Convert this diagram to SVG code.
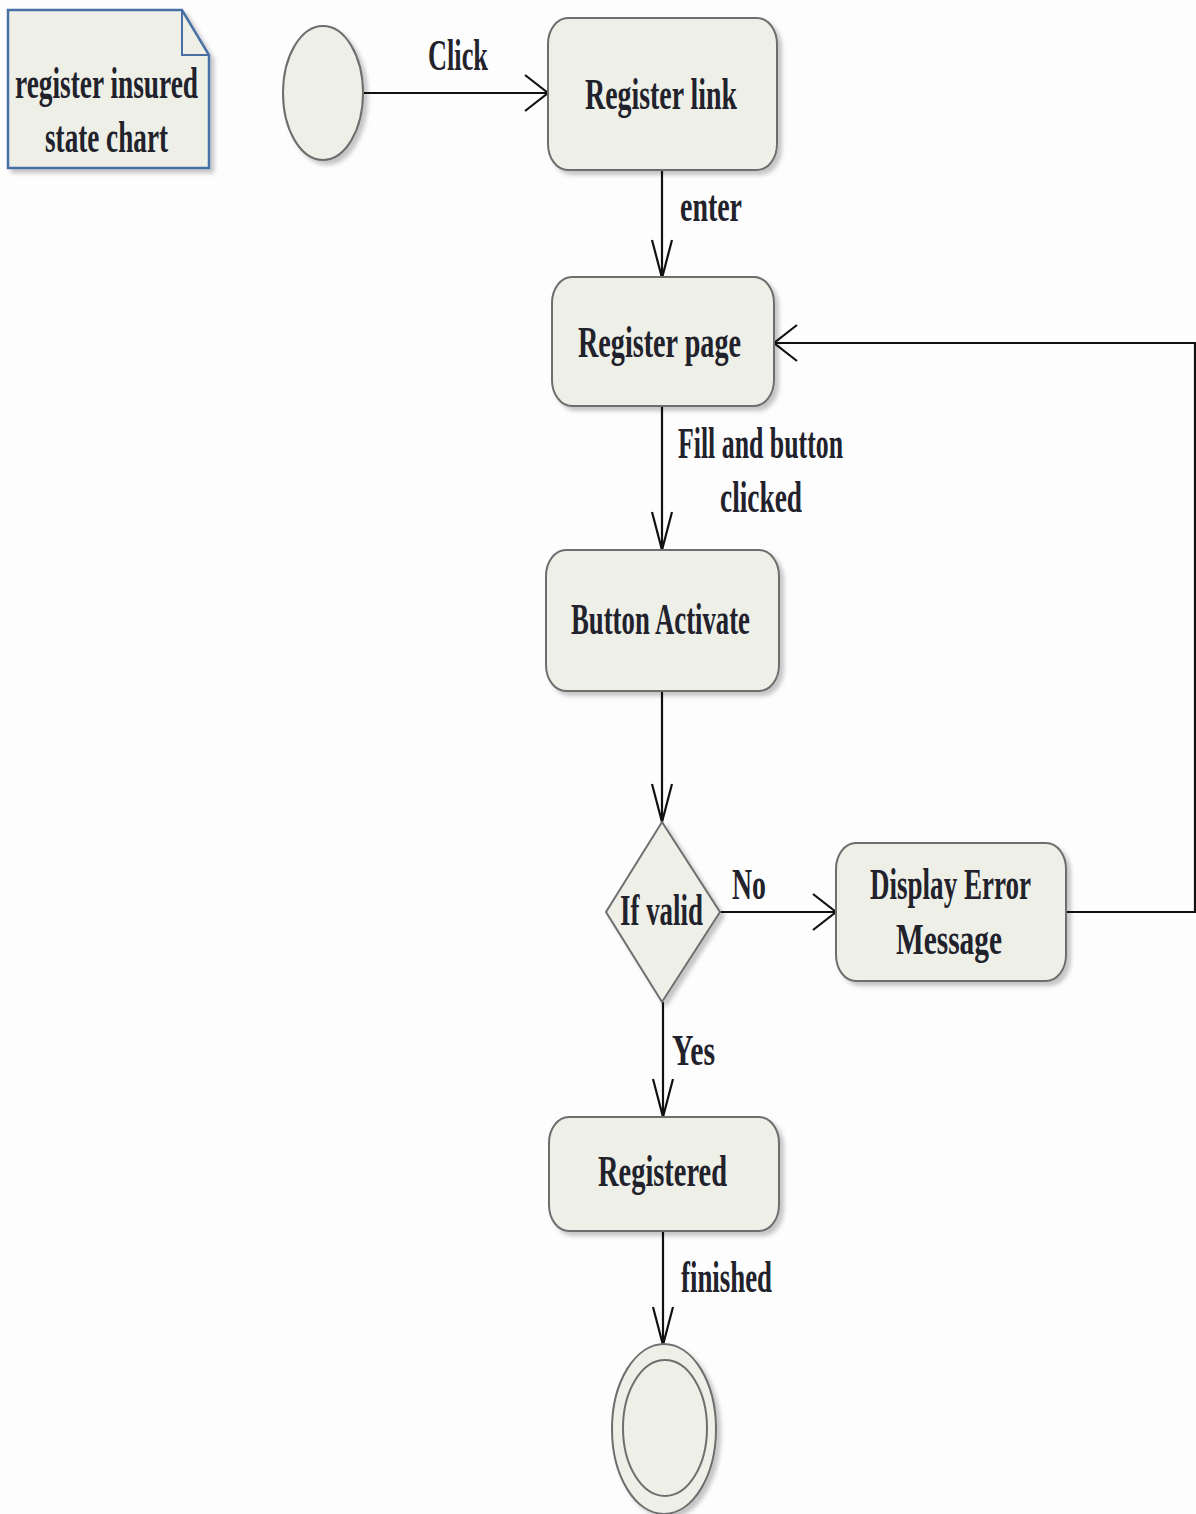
<svg xmlns="http://www.w3.org/2000/svg" width="1196" height="1514" viewBox="0 0 1196 1514">
  <style>
    .node { fill: #eef0e8; stroke: #6e6e6e; stroke-width: 2; filter: url(#shadow); }
    .note { fill: #eef0e8; stroke: #4a6fa5; stroke-width: 2.5; filter: url(#shadow); }
    .ring { fill: none; stroke: #6e6e6e; stroke-width: 2; }
    .edge { fill: none; stroke: #111; stroke-width: 2.2; }
    .head { fill: none; stroke: #111; stroke-width: 2.2; stroke-linejoin: miter; }
    text { font-family: "Liberation Serif", "Times New Roman", serif; font-size: 45px; font-weight: bold; fill: #22222c; }
  </style>
  <defs>
    <filter id="shadow" x="-10%" y="-10%" width="130%" height="130%">
      <feDropShadow dx="4" dy="4" stdDeviation="2" flood-color="#000" flood-opacity="0.22"/>
    </filter>
    <!-- open arrowhead for horizontal connectors -->
    <marker id="arrowH" markerUnits="userSpaceOnUse" markerWidth="30" markerHeight="42" refX="25" refY="20" orient="auto">
      <path class="head" d="M2,2 L25,20 L2,38"/>
    </marker>
    <!-- open arrowhead for downward connectors -->
    <marker id="arrowV" markerUnits="userSpaceOnUse" markerWidth="26" markerHeight="44" refX="12" refY="40" orient="0">
      <path class="head" d="M2,2 L12,40 L22,2"/>
    </marker>
  </defs>

  <rect width="1196" height="1514" fill="#fdfdfd"/>

  <!-- connectors -->
  <g id="connectors">
    <path class="edge" d="M363,93 H548" marker-end="url(#arrowH)"/>
    <path class="edge" d="M662,170 V278" marker-end="url(#arrowV)"/>
    <path class="edge" d="M662,406 V550" marker-end="url(#arrowV)"/>
    <path class="edge" d="M662,691 V822" marker-end="url(#arrowV)"/>
    <path class="edge" d="M720,912 H836" marker-end="url(#arrowH)"/>
    <path class="edge" d="M1066,912 H1195 V343 H774" marker-end="url(#arrowH)"/>
    <path class="edge" d="M663,1002 V1117" marker-end="url(#arrowV)"/>
    <path class="edge" d="M663,1231 V1345" marker-end="url(#arrowV)"/>

    <text x="428" y="70" textLength="60" lengthAdjust="spacingAndGlyphs">Click</text>
    <text x="680" y="221" textLength="62" lengthAdjust="spacingAndGlyphs">enter</text>
    <text x="678" y="458" textLength="165" lengthAdjust="spacingAndGlyphs">Fill and button</text>
    <text x="720" y="512" textLength="82" lengthAdjust="spacingAndGlyphs">clicked</text>
    <text transform="translate(732,899) scale(0.618,1)">No</text>
    <text x="672" y="1065" textLength="43" lengthAdjust="spacingAndGlyphs">Yes</text>
    <text x="681" y="1292" textLength="91" lengthAdjust="spacingAndGlyphs">finished</text>
  </g>

  <!-- note -->
  <g id="note">
    <path class="note" d="M8,10 H182 L209,55 V168 H8 Z"/>
    <path fill="none" stroke="#4a6fa5" stroke-width="2" d="M182,10 V55 H209"/>
    <text x="15" y="98" font-size="43" textLength="183" lengthAdjust="spacingAndGlyphs">register insured</text>
    <text x="45" y="152" font-size="43" textLength="123" lengthAdjust="spacingAndGlyphs">state chart</text>
  </g>

  <!-- initial state -->
  <g id="initial">
    <ellipse class="node" cx="323" cy="93" rx="40" ry="67"/>
  </g>

  <g id="register-link">
    <rect class="node" x="548" y="18" width="229" height="152" rx="20" ry="26"/>
    <text x="585" y="109" textLength="152" lengthAdjust="spacingAndGlyphs">Register link</text>
  </g>

  <g id="register-page">
    <rect class="node" x="552" y="277" width="222" height="129" rx="20" ry="26"/>
    <text x="578" y="357" textLength="163" lengthAdjust="spacingAndGlyphs">Register page</text>
  </g>

  <g id="button-activate">
    <rect class="node" x="546" y="550" width="233" height="141" rx="20" ry="26"/>
    <text x="571" y="634" textLength="179" lengthAdjust="spacingAndGlyphs">Button Activate</text>
  </g>

  <g id="if-valid">
    <path class="node" d="M662,822 L720,912 L662,1002 L606,912 Z"/>
    <text transform="translate(620,925) scale(0.598,1)">If valid</text>
  </g>

  <g id="display-error">
    <rect class="node" x="836" y="843" width="230" height="138" rx="20" ry="26"/>
    <text x="870" y="899" textLength="161" lengthAdjust="spacingAndGlyphs">Display Error</text>
    <text x="896" y="954" textLength="106" lengthAdjust="spacingAndGlyphs">Message</text>
  </g>

  <g id="registered">
    <rect class="node" x="549" y="1117" width="230" height="114" rx="20" ry="26"/>
    <text x="598" y="1186" textLength="129" lengthAdjust="spacingAndGlyphs">Registered</text>
  </g>

  <!-- final state -->
  <g id="final">
    <ellipse class="node" cx="664" cy="1429" rx="52" ry="85"/>
    <ellipse class="ring" cx="665" cy="1428" rx="42" ry="68"/>
  </g>
</svg>
